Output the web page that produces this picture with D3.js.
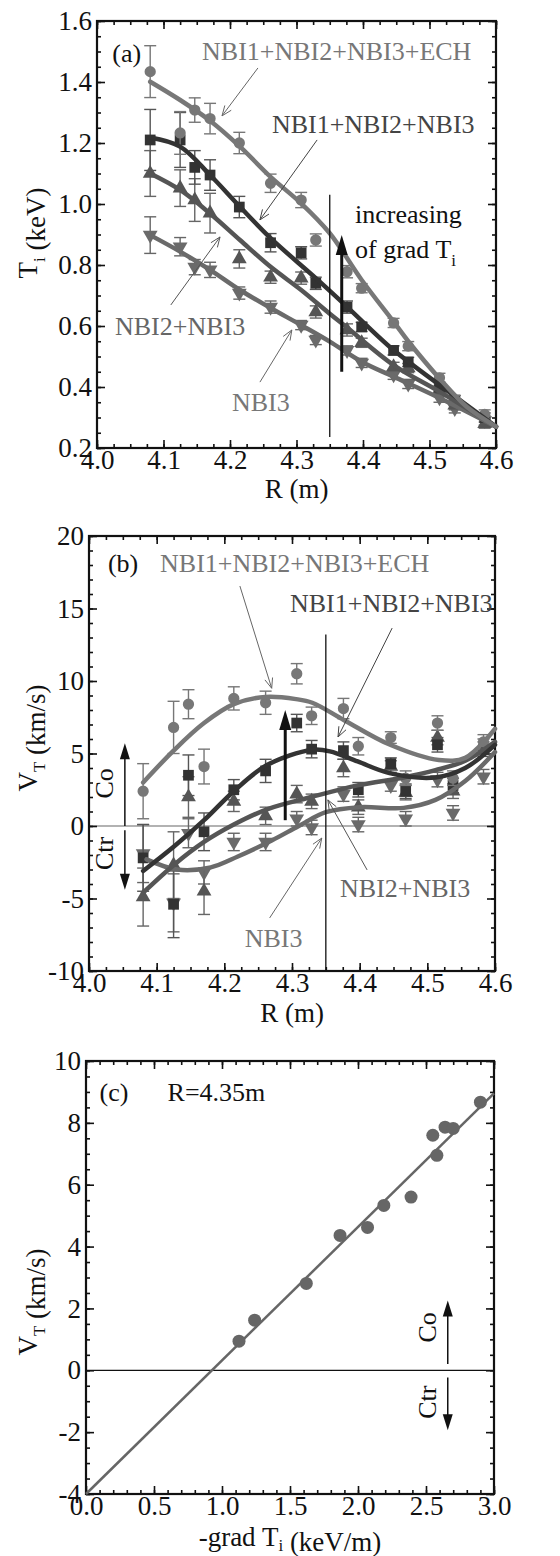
<!DOCTYPE html>
<html>
<head>
<meta charset="utf-8">
<script src="https://cdn.jsdelivr.net/npm/d3@7"></script>
<style>
  body { margin: 0; background: #fff; }
  svg { display: block; }
  svg text { font-family: "Liberation Serif", "Times New Roman", serif !important; }
</style>
</head>
<body>
<div id="chart"></div>
<script>
// major radius of the measurement channels (m)
const R = [4.08, 4.125, 4.147, 4.17, 4.214, 4.261, 4.307, 4.329, 4.376, 4.398, 4.446, 4.468, 4.515, 4.538, 4.583];

// (a) Ti (keV)
const tiECH      = [1.434, 1.233, 1.308, 1.28, 1.20, 1.068, 1.013, 0.882, 0.778, 0.724, 0.61, 0.534, 0.43, 0.357, 0.31];
const tiECHerr   = [0.085, 0.07, 0.04, 0.05, 0.035, 0.03, 0.025, 0.02, 0.02, 0.015, 0.015, 0.015, 0.015, 0.015, 0.015];
const tiNBI123   = [1.21, 1.21, 1.12, 1.095, 0.99, 0.873, 0.84, 0.74, 0.662, 0.597, 0.52, 0.482, 0.40, 0.357, 0.30];
const tiNBI123err= [0.1, 0.09, 0.055, 0.05, 0.035, 0.03, 0.02, 0.02, 0.02, 0.015, 0.015, 0.015, 0.015, 0.015, 0.015];
const tiNBI23    = [1.10, 1.052, 1.013, 0.97, 0.82, 0.76, 0.757, 0.646, 0.587, 0.545, 0.466, 0.462, 0.39, 0.34, 0.28];
const tiNBI23err = [0.075, 0.06, 0.07, 0.065, 0.03, 0.02, 0.02, 0.02, 0.02, 0.015, 0.015, 0.015, 0.015, 0.015, 0.015];
const tiNBI3     = [0.898, 0.86, 0.793, 0.784, 0.708, 0.662, 0.603, 0.554, 0.52, 0.479, 0.44, 0.41, 0.365, 0.33, 0.29];
const tiNBI3err  = [0.06, 0.03, 0.025, 0.025, 0.02, 0.02, 0.015, 0.015, 0.015, 0.015, 0.015, 0.015, 0.015, 0.015, 0.015];

// (a) fitted profiles
const fitTiECH_R    = [4.08, 4.125, 4.17, 4.215, 4.261, 4.307, 4.35, 4.398, 4.446, 4.468, 4.515, 4.556, 4.60];
const fitTiECH      = [1.401, 1.341, 1.273, 1.188, 1.089, 1.002, 0.904, 0.751, 0.614, 0.55, 0.428, 0.335, 0.27];
const fitTiNBI123_R = [4.08, 4.125, 4.17, 4.215, 4.261, 4.329, 4.376, 4.446, 4.515, 4.60];
const fitTiNBI123   = [1.218, 1.188, 1.095, 0.991, 0.888, 0.757, 0.663, 0.521, 0.407, 0.27];
const fitTiNBI23_R  = [4.08, 4.125, 4.17, 4.215, 4.261, 4.307, 4.35, 4.376, 4.446, 4.515, 4.60];
const fitTiNBI23    = [1.10, 1.046, 0.969, 0.882, 0.794, 0.718, 0.64, 0.595, 0.472, 0.385, 0.27];
const fitTiNBI3_R   = [4.08, 4.125, 4.17, 4.215, 4.261, 4.307, 4.35, 4.398, 4.446, 4.515, 4.60];
const fitTiNBI3     = [0.898, 0.844, 0.784, 0.718, 0.659, 0.603, 0.549, 0.483, 0.434, 0.364, 0.27];

// (b) toroidal rotation VT (km/s)
const vtECH      = [2.4, 6.8, 8.4, 4.1, 8.8, 8.5, 10.5, 7.6, 8.1, 5.5, 6.1, 3.3, 7.1, 3.3, 5.8];
const vtECHerr   = [1.9, 1.8, 1.0, 1.2, 0.8, 0.8, 0.7, 0.6, 0.7, 0.6, 0.4, 0.5, 0.5, 0.5, 0.5];
const vtNBI123   = [-2.2, -5.4, 3.5, -0.4, 2.5, 3.8, 7.1, 5.3, 5.2, 2.5, 4.3, 2.4, 5.6, 2.8, 5.3];
const vtNBI123err= [2.3, 2.3, 1.4, 1.3, 0.7, 0.8, 0.6, 0.6, 0.6, 0.5, 0.4, 0.5, 0.5, 0.5, 0.5];
const vtNBI23    = [-4.9, -2.7, 2.0, -4.5, 1.7, 0.7, 2.2, 1.7, 4.0, 1.3, 4.1, 2.3, 6.1, 2.4, 5.5];
const vtNBI23err = [2.0, 2.3, 1.4, 1.6, 0.7, 0.6, 0.6, 0.5, 0.6, 0.5, 0.4, 0.5, 0.5, 0.5, 0.5];
const vtNBI3     = [-1.9, -5.3, -0.5, -3.2, -1.1, -1.1, 0.5, -0.1, 2.2, 0.1, 2.8, 0.5, 3.2, 0.9, 3.4];
const vtNBI3err  = [2.0, 2.0, 1.0, 0.8, 0.6, 0.6, 0.5, 0.5, 0.5, 0.5, 0.4, 0.5, 0.5, 0.5, 0.5];

const fitVtECH_R    = [4.08, 4.125, 4.17, 4.214, 4.261, 4.306, 4.33, 4.377, 4.445, 4.517, 4.556, 4.60];
const fitVtECH      = [3.0, 5.2, 7.1, 8.4, 8.9, 8.75, 8.5, 7.3, 5.6, 4.55, 4.7, 6.7];
const fitVtNBI123_R = [4.08, 4.126, 4.17, 4.214, 4.263, 4.329, 4.356, 4.397, 4.444, 4.512, 4.556, 4.60];
const fitVtNBI123   = [-3.1, -1.4, 0.4, 2.4, 4.2, 5.25, 5.15, 4.45, 3.65, 3.35, 4.0, 5.6];
const fitVtNBI23_R  = [4.08, 4.125, 4.17, 4.214, 4.263, 4.329, 4.397, 4.465, 4.512, 4.556, 4.60];
const fitVtNBI23    = [-4.6, -2.7, -1.1, 0.1, 1.15, 2.0, 2.8, 3.35, 3.85, 4.5, 5.8];
const fitVtNBI3_R   = [4.085, 4.13, 4.18, 4.22, 4.27, 4.31, 4.35, 4.40, 4.465, 4.512, 4.556, 4.60];
const fitVtNBI3     = [-2.3, -3.0, -2.85, -2.1, -1.0, 0.0, 0.95, 1.3, 1.25, 1.8, 3.1, 5.1];

// (c) VT at R=4.35m against -grad Ti
const gradTi = [1.125, 1.24, 1.62, 1.868, 2.07, 2.19, 2.39, 2.55, 2.58, 2.64, 2.70, 2.90];
const vt435  = [0.94, 1.62, 2.81, 4.36, 4.62, 5.33, 5.6, 7.6, 6.95, 7.86, 7.82, 8.67];
const fitGrad = [0, 3.0];
const fitVt   = [-4.0, 8.95];

// ticks
const tickR  = [4.0, 4.1, 4.2, 4.3, 4.4, 4.5, 4.6];
const tickTi = [0.2, 0.4, 0.6, 0.8, 1.0, 1.2, 1.4, 1.6];
const tickVt = [-10, -5, 0, 5, 10, 15, 20];
const tickGrad = [0.0, 0.5, 1.0, 1.5, 2.0, 2.5, 3.0];
const tickVtC  = [-4, -2, 0, 2, 4, 6, 8, 10];

const W = 560, H = 1556, FS = 26, TFS = 27;
const svg = d3.select("#chart").append("svg").attr("width", W).attr("height", H);

const fmt1 = d3.format(".1f");
const fmtInt = d => String(d);

function frame(g, x, y, o) {
  const [xa, xb] = x.range(), [yb, ya] = y.range();
  const minX = d3.range(o.minorX[0], o.minorX[1] + 1e-9, o.minorX[2]);
  const minY = d3.range(o.minorY[0], o.minorY[1] + 1e-9, o.minorY[2]);
  const sides = [
    [() => d3.axisBottom(x), `translate(0,${yb})`, o.xTicks, minX, o.xFmt, 2],
    [() => d3.axisTop(x), `translate(0,${ya})`, o.xTicks, minX, null, 0],
    [() => d3.axisLeft(y), `translate(${xa},0)`, o.yTicks, minY, o.yFmt, 5],
    [() => d3.axisRight(y), `translate(${xb},0)`, o.yTicks, minY, null, 0]
  ];
  sides.forEach(([mk, tr, major, minor, f, pad]) => {
    g.append("g").attr("transform", tr)
      .call(mk().tickValues(minor).tickSize(-4).tickFormat(""))
      .call(s => s.select(".domain").remove());
    g.append("g").attr("transform", tr).attr("font-family", "Liberation Serif")
      .call(mk().tickValues(major).tickSize(-8).tickPadding(pad).tickFormat(f || ""))
      .call(s => s.select(".domain").remove())
      .call(s => s.selectAll("text").attr("font-size", TFS).attr("fill", "#111"));
  });
  g.selectAll(".tick line").attr("stroke", "#111").attr("stroke-width", 1.6);
  g.append("rect").attr("x", xa).attr("y", ya).attr("width", xb - xa).attr("height", yb - ya)
    .attr("fill", "none").attr("stroke", "#111").attr("stroke-width", 2.2);
}

function arrow(g, x1, y1, x2, y2, opt) {
  const a = Math.atan2(y2 - y1, x2 - x1), L = opt.len, hw = opt.hw;
  const bx = x2 - L * Math.cos(a), by = y2 - L * Math.sin(a);
  const px = -Math.sin(a) * hw, py = Math.cos(a) * hw;
  g.append("line").attr("x1", x1).attr("y1", y1)
    .attr("x2", opt.open ? x2 : bx + L * 0.3 * Math.cos(a)).attr("y2", opt.open ? y2 : by + L * 0.3 * Math.sin(a))
    .attr("stroke", opt.color).attr("stroke-width", opt.w);
  if (opt.open) {
    g.append("path").attr("d", `M${bx + px},${by + py}L${x2},${y2}L${bx - px},${by - py}`)
      .attr("fill", "none").attr("stroke", opt.color).attr("stroke-width", opt.w);
  } else {
    g.append("path").attr("d", `M${bx + px},${by + py}L${x2},${y2}L${bx - px},${by - py}Z`).attr("fill", opt.color);
  }
}

function label(g, x, y, parts, o = {}) {
  const size = o.size || FS;
  const t = g.append("text").attr("x", x).attr("y", y).attr("font-size", size)
    .attr("fill", o.color || "#111").attr("text-anchor", o.anchor || "start");
  if (o.rotate) t.attr("transform", `rotate(-90,${x},${y})`);
  parts.forEach(p => {
    if (typeof p === "string") t.append("tspan").text(p);
    else t.append("tspan").attr("dy", p.dy).attr("font-size", p.size || size).text(p.t);
  });
  return t;
}
const sub = (s, d = 8) => [{ t: s, dy: d, size: 17 }, { t: "", dy: -d }];

const sym = {
  circle: d3.symbol().type(d3.symbolCircle).size(100)(),
  square: d3.symbol().type(d3.symbolSquare).size(115)(),
  up: d3.symbol().type(d3.symbolTriangle).size(95)(),
};

function series(g, x, y, xs, ys, errs, shape, color, errColor) {
  const pts = xs.map((v, i) => ({ x: x(v), y: y(ys[i]), lo: y(ys[i] - errs[i]), hi: y(ys[i] + errs[i]) }));
  const eb = g.append("g").attr("stroke", errColor).attr("stroke-width", 1.4);
  pts.forEach(p => {
    eb.append("line").attr("x1", p.x).attr("x2", p.x).attr("y1", p.lo).attr("y2", p.hi);
    eb.append("line").attr("x1", p.x - 6).attr("x2", p.x + 6).attr("y1", p.lo).attr("y2", p.lo);
    eb.append("line").attr("x1", p.x - 6).attr("x2", p.x + 6).attr("y1", p.hi).attr("y2", p.hi);
  });
  g.append("g").selectAll("path").data(pts).join("path")
    .attr("d", shape === "down" ? sym.up : sym[shape])
    .attr("transform", p => `translate(${p.x},${p.y})` + (shape === "down" ? " rotate(180)" : ""))
    .attr("fill", color);
}

function fit(g, x, y, xs, ys, color, w) {
  g.append("path").datum(xs.map((v, i) => [x(v), y(ys[i])]))
    .attr("d", d3.line().curve(d3.curveCatmullRom.alpha(0.5)))
    .attr("fill", "none").attr("stroke", color).attr("stroke-width", w)
    .attr("stroke-linecap", "round");
}

const cECH = "#777", c123 = "#333", c23 = "#555", c3 = "#6a6a6a";
const thin = c => ({ len: 10, hw: 4, w: 1, color: c, open: true });

// ---------- panel (a)
{
  const g = svg.append("g");
  const x = d3.scaleLinear().domain([4.0, 4.6]).range([97, 496]);
  const y = d3.scaleLinear().domain([0.2, 1.6]).range([448, 21]);
  frame(g, x, y, { xTicks: tickR, yTicks: tickTi, minorX: [4.0, 4.6, 0.025], minorY: [0.2, 1.6, 0.05], xFmt: fmt1, yFmt: fmt1 });

  series(g, x, y, R, tiNBI3, tiNBI3err, "down", c3, "#666");
  series(g, x, y, R, tiNBI23, tiNBI23err, "up", c23, "#666");
  series(g, x, y, R, tiNBI123, tiNBI123err, "square", c123, "#555");
  series(g, x, y, R, tiECH, tiECHerr, "circle", cECH, "#777");
  fit(g, x, y, fitTiNBI3_R, fitTiNBI3, c3, 4.5);
  fit(g, x, y, fitTiNBI23_R, fitTiNBI23, c23, 4.5);
  fit(g, x, y, fitTiNBI123_R, fitTiNBI123, c123, 4.5);
  fit(g, x, y, fitTiECH_R, fitTiECH, cECH, 4.5);

  label(g, x(4.023), y(1.466), ["(a)"]);
  label(g, x(4.158), y(1.472), ["NBI1+NBI2+NBI3+ECH"], { color: "#777" });
  arrow(g, x(4.242), y(1.446), x(4.188), y(1.289), thin("#666"));
  label(g, x(4.263), y(1.233), ["NBI1+NBI2+NBI3"], { color: "#444" });
  arrow(g, x(4.331), y(1.21), x(4.245), y(0.948), thin("#444"));
  label(g, x(4.027), y(0.57), ["NBI2+NBI3"], { color: "#666" });
  arrow(g, x(4.111), y(0.669), x(4.185), y(0.892), thin("#555"));
  label(g, x(4.203), y(0.321), ["NBI3"], { color: "#777" });
  arrow(g, x(4.245), y(0.416), x(4.293), y(0.587), thin("#666"));

  g.append("line").attr("x1", x(4.35)).attr("x2", x(4.35)).attr("y1", y(1.03)).attr("y2", y(0.236))
    .attr("stroke", "#111").attr("stroke-width", 1.3);
  arrow(g, x(4.368), y(0.45), x(4.368), y(0.898), { len: 20, hw: 6, w: 3, color: "#111" });
  label(g, x(4.388), y(0.938), ["increasing"]);
  label(g, x(4.388), y(0.823), ["of grad T", ...sub("i")]);

  label(g, 37, 233, ["T", ...sub("i"), " (keV)"], { rotate: true, anchor: "middle", size: 27 });
  label(g, x(4.3), 498, ["R (m)"], { anchor: "middle", size: 27 });
}

// ---------- panel (b)
{
  const g = svg.append("g");
  const x = d3.scaleLinear().domain([4.0, 4.6]).range([89, 495]);
  const y = d3.scaleLinear().domain([-10, 20]).range([971, 536]);
  g.append("line").attr("x1", x(4.0)).attr("x2", x(4.6)).attr("y1", y(0)).attr("y2", y(0))
    .attr("stroke", "#999").attr("stroke-width", 1.3);
  frame(g, x, y, { xTicks: tickR, yTicks: tickVt, minorX: [4.0, 4.6, 0.025], minorY: [-10, 20, 1], xFmt: fmt1, yFmt: fmtInt });

  series(g, x, y, R, vtNBI3, vtNBI3err, "down", c3, "#666");
  series(g, x, y, R, vtNBI23, vtNBI23err, "up", c23, "#666");
  series(g, x, y, R, vtNBI123, vtNBI123err, "square", c123, "#555");
  series(g, x, y, R, vtECH, vtECHerr, "circle", cECH, "#777");
  fit(g, x, y, fitVtNBI3_R, fitVtNBI3, c3, 4.5);
  fit(g, x, y, fitVtNBI23_R, fitVtNBI23, c23, 4.5);
  fit(g, x, y, fitVtNBI123_R, fitVtNBI123, c123, 4.5);
  fit(g, x, y, fitVtECH_R, fitVtECH, cECH, 4.5);

  label(g, x(4.028), y(17.5), ["(b)"]);
  label(g, x(4.105), y(17.5), ["NBI1+NBI2+NBI3+ECH"], { color: "#777" });
  arrow(g, x(4.223), y(16.55), x(4.27), y(9.5), thin("#666"));
  label(g, x(4.297), y(14.76), ["NBI1+NBI2+NBI3"], { color: "#444" });
  arrow(g, x(4.448), y(13.65), x(4.368), y(6.14), thin("#444"));
  label(g, x(4.371), y(-4.9), ["NBI2+NBI3"], { color: "#666" });
  arrow(g, x(4.411), y(-3.03), x(4.353), y(1.8), thin("#555"));
  label(g, x(4.23), y(-8.34), ["NBI3"], { color: "#777" });
  arrow(g, x(4.267), y(-6.34), x(4.344), y(-0.83), thin("#666"));

  g.append("line").attr("x1", x(4.35)).attr("x2", x(4.35)).attr("y1", y(13.2)).attr("y2", y(-10))
    .attr("stroke", "#111").attr("stroke-width", 1.3);
  arrow(g, x(4.29), y(0.4), x(4.29), y(8.0), { len: 20, hw: 6, w: 3, color: "#111" });

  arrow(g, x(4.053), y(0), x(4.053), y(5.7), { len: 16, hw: 5, w: 1.5, color: "#111" });
  arrow(g, x(4.053), y(-0.3), x(4.053), y(-4.4), { len: 16, hw: 5, w: 1.5, color: "#111" });
  label(g, x(4.036), y(2.94), ["Co"], { rotate: true, anchor: "middle" });
  label(g, x(4.036), y(-1.89), ["Ctr"], { rotate: true, anchor: "middle" });

  label(g, 37, 738, ["V", ...sub("T"), " (km/s)"], { rotate: true, anchor: "middle", size: 27 });
  label(g, x(4.3), 1022, ["R (m)"], { anchor: "middle", size: 27 });
}

// ---------- panel (c)
{
  const g = svg.append("g");
  const x = d3.scaleLinear().domain([0, 3]).range([86, 494]);
  const y = d3.scaleLinear().domain([-4, 10]).range([1494, 1061]);
  g.append("line").attr("x1", x(0)).attr("x2", x(3)).attr("y1", y(0)).attr("y2", y(0))
    .attr("stroke", "#111").attr("stroke-width", 1.3);
  frame(g, x, y, { xTicks: tickGrad, yTicks: tickVtC, minorX: [0, 3, 0.1], minorY: [-4, 10, 0.5], xFmt: fmt1, yFmt: fmtInt });

  g.append("path").datum(fitGrad.map((v, i) => [x(v), y(fitVt[i])]))
    .attr("d", d3.line()).attr("stroke", "#666").attr("stroke-width", 2.5).attr("fill", "none");
  g.append("g").selectAll("circle").data(gradTi).join("circle")
    .attr("cx", d => x(d)).attr("cy", (d, i) => y(vt435[i])).attr("r", 6.5).attr("fill", "#666");

  label(g, x(0.10), y(8.7), ["(c)"]);
  label(g, x(0.60), y(8.7), ["R=4.35m"]);
  arrow(g, x(2.66), y(0.2), x(2.66), y(2.26), { len: 16, hw: 5, w: 1.5, color: "#111" });
  arrow(g, x(2.66), y(-0.23), x(2.66), y(-1.94), { len: 16, hw: 5, w: 1.5, color: "#111" });
  label(g, x(2.57), y(1.39), ["Co"], { rotate: true, anchor: "middle" });
  label(g, x(2.57), y(-1.03), ["Ctr"], { rotate: true, anchor: "middle" });

  label(g, 37, 1302, ["V", ...sub("T"), " (km/s)"], { rotate: true, anchor: "middle", size: 27 });
  label(g, x(1.5), 1546, ["-grad T", ...sub("i", 5), " (keV/m)"], { anchor: "middle", size: 27 });
}
</script>
</body>
</html>
